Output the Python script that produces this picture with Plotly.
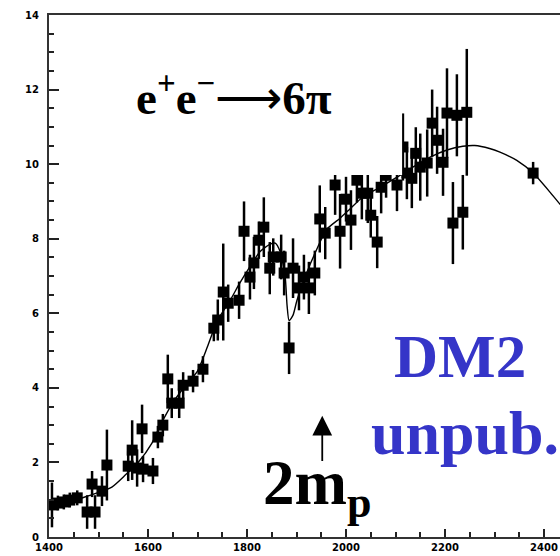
import plotly.graph_objects as go

# e+e- -> 6pi cross section (DM2), centre-of-mass energy in MeV
mass = [1406, 1418, 1430, 1442, 1457, 1477, 1487, 1493, 1507, 1517,
        1560, 1568, 1578, 1588, 1590, 1610, 1620, 1630, 1640, 1648,
        1663, 1671, 1691, 1711, 1733, 1741, 1752, 1762, 1784, 1794,
        1806, 1814, 1824, 1834, 1846, 1853, 1869, 1875, 1885, 1893,
        1905, 1915, 1925, 1937, 1947, 1958, 1978, 1988, 2000, 2010,
        2022, 2032, 2044, 2050, 2063, 2071, 2081, 2103, 2115, 2123,
        2133, 2141, 2150, 2164, 2174, 2184, 2196, 2204, 2216, 2224,
        2236, 2244, 2378]
sigma = [0.86, 0.91, 0.94, 0.99, 1.05, 0.67, 1.42, 0.67, 1.23, 1.93,
         1.90, 2.33, 1.85, 2.90, 1.82, 1.77, 2.68, 3.00, 4.24, 3.59,
         3.59, 4.07, 4.18, 4.50, 5.60, 5.82, 6.57, 6.27, 6.35, 8.20,
         6.97, 7.35, 7.96, 8.31, 7.21, 7.51, 7.51, 7.08, 5.07, 7.21,
         6.68, 6.97, 6.68, 7.08, 8.53, 8.15, 9.44, 8.20, 9.06, 8.50,
         9.57, 9.22, 9.22, 8.63, 7.91, 9.38, 9.70, 9.44, 10.46, 9.76,
         9.62, 10.29, 9.92, 10.03, 11.10, 10.64, 10.05, 11.37, 8.42, 11.31,
         8.71, 11.39, 9.76]
sigma_err = [0.60, 0.20, 0.20, 0.20, 0.20, 0.45, 0.35, 0.45, 0.40, 0.95,
             0.40, 0.80, 0.50, 0.65, 0.35, 0.35, 0.30, 0.30, 0.65, 0.40,
             0.40, 0.35, 0.30, 0.35, 0.35, 0.55, 1.30, 0.50, 0.50, 0.80,
             0.60, 0.70, 0.50, 0.80, 0.70, 0.50, 0.60, 0.60, 0.70, 0.80,
             0.60, 0.60, 0.70, 0.60, 0.90, 0.70, 0.80, 1.00, 0.60, 0.80,
             0.60, 0.70, 0.80, 0.60, 0.70, 0.70, 0.60, 0.70, 0.90, 0.70,
             0.80, 0.70, 0.90, 0.90, 0.90, 0.90, 0.90, 1.20, 1.10, 1.10,
             1.00, 1.70, 0.30]

# fitted curve
fit_mass = [1400, 1430, 1460, 1490, 1527, 1554, 1580, 1608, 1625, 1650,
            1675, 1700, 1720, 1740, 1766, 1785, 1806, 1826, 1846, 1857,
            1867, 1877, 1881, 1885, 1893, 1901, 1921, 1937, 1961, 1988,
            2008, 2034, 2069, 2103, 2135, 2170, 2204, 2236, 2260, 2290,
            2311, 2345, 2378, 2412, 2440]
fit_sigma = [0.78, 0.90, 1.02, 1.15, 1.34, 1.66, 2.00, 2.52, 3.00, 3.60,
             4.05, 4.45, 5.10, 5.80, 6.35, 6.80, 7.25, 7.65, 7.85, 7.88,
             7.65, 7.00, 6.20, 5.80, 5.95, 6.35, 7.10, 7.60, 8.25, 8.55,
             8.80, 9.12, 9.38, 9.65, 9.92, 10.19, 10.38, 10.48, 10.50, 10.42,
             10.32, 10.10, 9.76, 9.25, 8.80]

x_ticks = [1400, 1600, 1800, 2000, 2200, 2400]
y_ticks = [0, 2, 4, 6, 8, 10, 12, 14]

# proton-antiproton threshold marker
THRESHOLD_X = 1952
ARROW_TAIL_Y = 2.0
ARROW_TIP_Y = 3.25

fig = go.Figure()

fig.add_trace(go.Scatter(
    x=fit_mass, y=fit_sigma, mode="lines",
    line=dict(color="black", width=1.4, shape="spline", smoothing=0.6),
    hoverinfo="skip", showlegend=False,
))

fig.add_trace(go.Scatter(
    x=mass, y=sigma, mode="markers",
    marker=dict(symbol="square", size=11, color="black"),
    error_y=dict(type="data", array=sigma_err, color="black",
                 thickness=2.5, width=0),
    showlegend=False,
))

# white panel behind the reaction label
fig.add_shape(type="rect", xref="paper", yref="paper",
              x0=0.15, x1=0.691, y0=0.6935, y1=0.93,
              fillcolor="white", line=dict(width=0), layer="above")

serif = "Liberation Serif, Times New Roman, serif"

fig.add_annotation(
    xref="paper", yref="paper", x=0.362, y=0.848,
    xanchor="center", yanchor="middle", showarrow=False,
    text="<b>e<sup>+</sup>e<sup>−</sup></b>⟶<b>6π</b>",
    font=dict(family=serif, size=47, color="black"),
)

fig.add_annotation(
    xref="paper", yref="paper", x=0.805, y=0.345,
    xanchor="center", yanchor="middle", showarrow=False,
    text="<b>DM2</b>",
    font=dict(family=serif, size=61, color="#3535c8"),
)
fig.add_annotation(
    xref="paper", yref="paper", x=0.815, y=0.2,
    xanchor="center", yanchor="middle", showarrow=False,
    text="<b>unpub.</b>",
    font=dict(family=serif, size=62, color="#3535c8"),
)

fig.add_annotation(
    xref="paper", yref="paper", x=0.525, y=0.095,
    xanchor="center", yanchor="middle", showarrow=False,
    text="<b>2m<sub>p</sub></b>",
    font=dict(family=serif, size=63, color="black"),
)

fig.add_annotation(
    x=THRESHOLD_X, y=ARROW_TIP_Y, ax=THRESHOLD_X, ay=ARROW_TAIL_Y,
    xref="x", yref="y", axref="x", ayref="y",
    text="", showarrow=True, arrowhead=2, arrowsize=2.2,
    arrowwidth=1.8, arrowcolor="black",
)

tick_font = dict(family="DejaVu Sans, Arial, sans-serif", size=10,
                 color="black", weight="bold")

fig.update_xaxes(
    range=[1400, 2432.3], tickvals=x_ticks, ticks="inside", ticklen=8,
    tickwidth=1.5, tickcolor="#222", tickfont=tick_font,
    showline=True, linecolor="#333", linewidth=2, mirror=True,
    showgrid=False, zeroline=False,
    minor=dict(dtick=50, ticks="inside", ticklen=5, tickwidth=1.5,
               tickcolor="#222", showgrid=False),
)
fig.update_yaxes(
    range=[0, 14], tickvals=y_ticks, ticks="inside", ticklen=10,
    tickwidth=1.5, tickcolor="#222", tickfont=tick_font,
    ticklabelstandoff=6,
    showline=True, linecolor="#333", linewidth=2, mirror=False,
    showgrid=False, zeroline=False,
    minor=dict(dtick=0.5, ticks="inside", ticklen=5, tickwidth=1.5,
               tickcolor="#222", showgrid=False),
)

fig.update_layout(
    width=560, height=556,
    margin=dict(l=49, r=0, t=15, b=19),
    paper_bgcolor="white", plot_bgcolor="white",
)

fig.write_html("out.html")
